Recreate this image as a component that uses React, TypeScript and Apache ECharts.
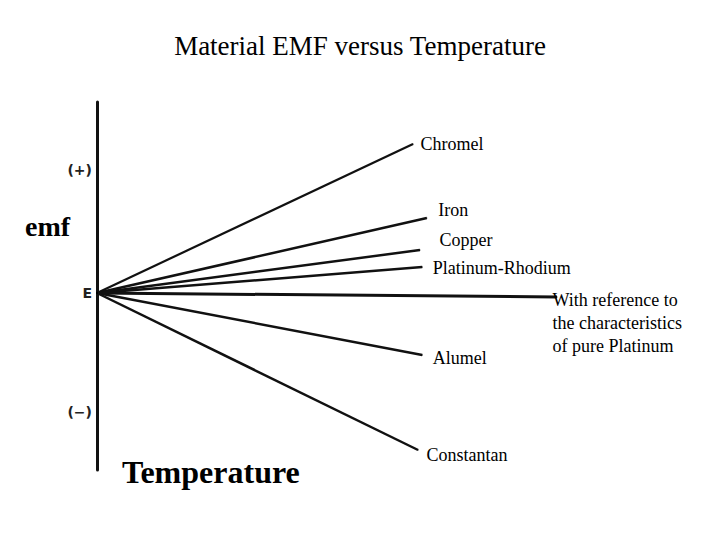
import React, { useEffect, useRef } from "react";
import * as echarts from "echarts";

// Data (arbitrary units: temperature 0..100, emf relative to reference E = 0)
const materials = [
  "Chromel",
  "Iron",
  "Copper",
  "Platinum-Rhodium",
  "With reference to\nthe characteristics\nof pure Platinum",
  "Alumel",
  "Constantan",
];
const endTemperature = [68.7, 71.7, 70.2, 70.7, 100, 70.7, 69.8];
const endEmf = [149, 75, 43, 26, -4, -62, -157];
const startPoint = [0, 0];

const yTickValues = [123, 0, -119];
const yTickLabels = ["(+)", "E", "(\u2212)"];

const titleText = "Material EMF versus Temperature";
const yName = "emf";
const xName = "Temperature";

// Layout (label offsets relative to each line end)
const labelOffsets: number[][] = [
  [7, 0],
  [11, -8],
  [19, -10],
  [10, 1],
  [-5, 26],
  [10, 3],
  [8, 5],
];
const lineWidths = [2.2, 2.5, 2.5, 2.5, 3, 2.5, 2.5];

const SERIF = "'Liberation Serif', 'Times New Roman', serif";

export default function App() {
  const ref = useRef<HTMLDivElement>(null);
  useEffect(() => {
    if (!ref.current) return;
    const chart = echarts.init(ref.current, null, { renderer: "svg" });
    const series = materials.map((name, i) => ({
      type: "line",
      name,
      symbol: "circle",
      symbolSize: 1,
      showSymbol: true,
      itemStyle: { color: "#000" },
      lineStyle: { color: "#111", width: lineWidths[i] },
      data: [
        { value: startPoint },
        {
          value: [endTemperature[i], endEmf[i]],
          label: {
            show: true,
            position: "right",
            distance: 0,
            offset: labelOffsets[i],
            align: "left",
            verticalAlign: "middle",
            formatter: name,
            color: "#000",
            fontFamily: SERIF,
            fontSize: 18,
            lineHeight: 23,
          },
        },
      ],
    }));
    chart.setOption({
      animation: false,
      backgroundColor: "#fff",
      title: {
        text: titleText,
        left: "center",
        top: 27,
        textStyle: {
          fontFamily: SERIF,
          fontSize: 27,
          fontWeight: "normal",
          color: "#000",
        },
      },
      grid: { left: 97, right: 163, top: 102, bottom: 70, containLabel: false },
      xAxis: {
        type: "value",
        min: 0,
        max: 100,
        show: false,
      },
      yAxis: {
        type: "value",
        min: -177,
        max: 191,
        axisLine: { show: true, lineStyle: { color: "#111", width: 3 } },
        axisTick: { show: false },
        splitLine: { show: false },
        axisLabel: {
          customValues: yTickValues,
          formatter: (v: number) => {
            const idx = yTickValues.indexOf(v);
            return idx >= 0 ? yTickLabels[idx] : "";
          },
          margin: 5,
          color: "#222",
          fontWeight: "bold",
          fontSize: 14,
          fontFamily: "'DejaVu Sans', sans-serif",
        },
      },
      graphic: [
        {
          type: "text",
          left: 25,
          top: 212,
          style: {
            text: yName,
            fontFamily: SERIF,
            fontWeight: "bold",
            fontSize: 28,
            fill: "#000",
          },
        },
        {
          type: "text",
          left: 122,
          top: 456,
          style: {
            text: xName,
            fontFamily: SERIF,
            fontWeight: "bold",
            fontSize: 32,
            fill: "#000",
          },
        },
      ],
      series,
    });
    return () => chart.dispose();
  }, []);
  return (
    <div
      ref={ref}
      style={{ position: "absolute", left: 0, top: 0, width: 720, height: 540 }}
    />
  );
}
